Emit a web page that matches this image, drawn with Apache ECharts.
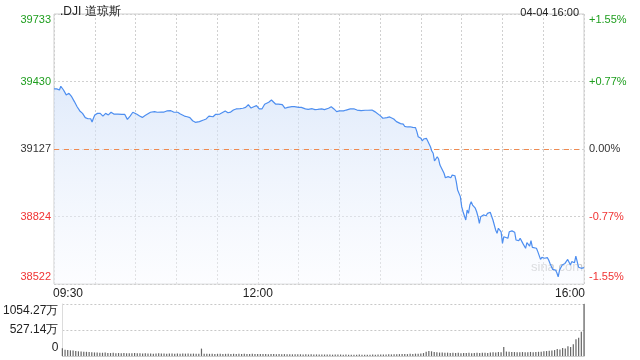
<!DOCTYPE html>
<html><head><meta charset="utf-8">
<script src="https://cdn.jsdelivr.net/npm/echarts@6/dist/echarts.min.js"></script>
<style>html,body{margin:0;padding:0;background:#fff}#c{width:640px;height:360px}</style>
</head><body><div id="c"></div>
<script>
const title = '.DJI 道琼斯';
const stamp = '04-04 16:00';
const prevClose = 39127;
const axisHalfRange = 606.5;
const priceTickLabels = ['38522','38824','39127','39430','39733'];
const pctTickLabels = ['-1.55%','-0.77%','0.00%','+0.77%','+1.55%'];
const volTickLabels = ['0','527.14万','1054.27万'];
const volMax = 1054.27;
const timeTickMinutes = [0,150,390];
const timeTickLabels = ['09:30','12:00','16:00'];

const minutes = [0,2,4,5,7,9,11,13,15,17,19,21,23,25,27,28,29,30,32,34,36,38,40,42,44,47,50,52,54,56,58,61,63,65,67,71,74,76,79,81,83,86,88,91,93,96,98,100,102,104,105,107,110,112,114,117,119,122,123,126,128,130,132,134,137,139,141,143,145,147,149,151,153,155,158,160,161,163,165,168,170,172,175,177,180,182,185,187,190,192,194,197,199,202,204,206,208,209,210,213,215,218,221,223,226,229,231,234,236,237,240,242,245,247,250,252,255,257,258,260,262,264,266,267,268,270,271,272,274,275,277,278,279,280,282,283,284,285,287,288,290,292,293,295,296,297,299,300,301,302,303,304,305,306,307,308,310,311,312,313,314,316,318,319,320,321,323,324,325,326,327,329,330,331,332,334,335,337,339,340,341,342,343,345,346,347,348,350,351,352,353,355,356,357,358,359,361,363,364,365,366,367,369,370,371,372,373,374,376,377,378,380,381,383,384,385,386,388,390];
const prices = [39397,39397,39392,39409,39392,39370,39377,39362,39340,39317,39298,39287,39268,39263,39263,39248,39265,39280,39287,39287,39275,39287,39280,39292,39284,39284,39283,39283,39260,39275,39292,39283,39275,39269,39277,39292,39295,39292,39293,39293,39298,39299,39293,39292,39284,39275,39272,39268,39254,39247,39254,39250,39257,39262,39275,39272,39283,39284,39292,39298,39290,39293,39302,39307,39308,39310,39314,39326,39311,39317,39322,39307,39307,39328,39337,39347,39343,39329,39329,39326,39310,39314,39317,39317,39314,39314,39307,39305,39308,39304,39305,39307,39304,39310,39317,39307,39295,39299,39298,39298,39302,39307,39307,39302,39299,39301,39301,39302,39295,39287,39277,39265,39268,39271,39262,39250,39241,39239,39229,39226,39227,39224,39223,39205,39182,39175,39163,39172,39175,39163,39137,39118,39108,39073,39092,39082,39055,39043,39018,38998,39003,38998,39010,39007,38980,38943,38913,38868,38845,38838,38808,38853,38838,38875,38890,38875,38861,38845,38823,38793,38823,38831,38827,38838,38835,38843,38808,38800,38763,38748,38771,38755,38703,38733,38741,38726,38755,38759,38753,38718,38726,38715,38726,38703,38696,38681,38706,38691,38715,38685,38688,38681,38666,38658,38631,38640,38636,38639,38628,38613,38606,38586,38583,38571,38553,38583,38576,38606,38613,38610,38631,38606,38621,38616,38646,38621,38596,38591,38594];

// volume in 万, one bar per 2 minutes (last bar = 16:00 close)
const volumes = [156,125,120,115,110,100,95,92,88,85,
80,75,72,70,68,66,70,62,60,64,58,60,57,62,55,58,56,60,54,57,
52,55,50,53,48,50,55,49,52,47,50,53,48,51,46,50,48,52,47,49,
46,48,150,45,47,44,46,43,45,47,42,44,46,43,45,41,44,42,45,43,40,44,42,41,43,
40,42,38,41,39,37,40,36,38,35,37,34,36,33,35,32,34,31,33,30,32,29,31,30,28,30,27,29,28,30,
26,28,25,27,24,26,28,25,27,24,26,29,27,30,28,32,30,34,32,36,35,38,40,42,38,45,42,48,46,50,
60,85,100,95,80,75,70,72,65,68,62,66,60,64,58,62,60,65,58,62,66,60,64,68,62,
70,75,72,80,78,180,90,85,82,80,78,76,80,74,78,82,76,80,85,88,
95,100,105,110,120,140,130,160,150,200,180,240,340,370,490,1054.27];

const GREEN = '#1e9e1e', RED = '#f03333', DARK = '#333';
const FONT = 'Liberation Sans, Arial, sans-serif';

const lineData = minutes.map((m, i) => [m, prices[i] - prevClose]);
const volData = volumes.map((v, i) => [Math.min(i * 2, 390), v]);

const step = axisHalfRange / 2;
function tickIndex(v) { return Math.round((v + axisHalfRange) / step); }
function styleKey(idx, n) {
  const col = idx > 2 ? 'g' : (idx < 2 ? 'r' : 'k');
  const pos = idx === n - 1 ? 't' : (idx === 0 ? 'b' : 'm');
  return col + pos;
}
function richSet(fontSize) {
  const r = {};
  const cols = {g: GREEN, r: RED, k: DARK};
  for (const c in cols) {
    r[c + 't'] = {color: cols[c], fontSize, fontFamily: FONT, padding: [12,0,0,0]};
    r[c + 'm'] = {color: cols[c], fontSize, fontFamily: FONT};
    r[c + 'b'] = {color: cols[c], fontSize, fontFamily: FONT, padding: [0,0,14,0]};
  }
  return r;
}

const chart = echarts.init(document.getElementById('c'));
chart.setOption({
  animation: false,
  backgroundColor: '#fff',
  title: [
    {text: title, left: 55, top: 1, textStyle: {fontSize: 12, fontWeight: 'normal', color: '#222', fontFamily: FONT}},
    {text: stamp, right: 56, top: 2, textStyle: {fontSize: 11, fontWeight: 'normal', color: '#222', fontFamily: FONT}}
  ],
  graphic: [{type: 'text', left: 531, top: 261, style: {text: 'sina.com', fill: '#c8c8c8', font: '13px ' + FONT}, z: 1}],
  grid: [
    {left: 54, right: 56, top: 14, height: 270, show: true, borderColor: '#cfcfcf', borderWidth: 1},
    {left: 54, right: 56, top: 304, height: 52}
  ],
  xAxis: [
    {type: 'value', gridIndex: 0, min: 0, max: 390, interval: 30,
     axisLine: {show: false}, axisTick: {show: false},
     splitLine: {show: true, lineStyle: {color: '#d0d0d0', type: [2, 2]}},
     axisLabel: {show: true, margin: 4, fontSize: 12, color: '#222', fontFamily: FONT,
       formatter: v => {
         const k = timeTickMinutes.indexOf(v);
         if (k < 0) return '';
         if (k === 0) return '{l|' + timeTickLabels[k] + '}';
         if (k === timeTickMinutes.length - 1) return '{r|' + timeTickLabels[k] + '}';
         return timeTickLabels[k];
       },
       rich: {l: {padding: [0,0,0,28], fontSize: 12, fontFamily: FONT, color: '#222'},
              r: {padding: [0,28,0,0], fontSize: 12, fontFamily: FONT, color: '#222'}}}},
    {type: 'value', gridIndex: 1, min: 0, max: 390, interval: 30,
     axisLine: {show: true, lineStyle: {color: '#cfcfcf'}}, axisTick: {show: false},
     splitLine: {show: false}, axisLabel: {show: false}}
  ],
  yAxis: [
    {type: 'value', gridIndex: 0, min: -axisHalfRange, max: axisHalfRange, interval: step,
     axisLine: {show: false}, axisTick: {show: false},
     splitLine: {show: true, lineStyle: {color: '#d0d0d0', type: [2, 2]}},
     axisLabel: {margin: 3, formatter: v => { const i = tickIndex(v); return '{' + styleKey(i, 5) + '|' + priceTickLabels[i] + '}'; }, rich: richSet(11)}},
    {type: 'value', gridIndex: 0, position: 'right', min: -axisHalfRange, max: axisHalfRange, interval: step,
     axisLine: {show: false}, axisTick: {show: false}, splitLine: {show: false},
     axisLabel: {margin: 5, formatter: v => { const i = tickIndex(v); return '{' + styleKey(i, 5) + '|' + pctTickLabels[i] + '}'; }, rich: richSet(11)}},
    {type: 'value', gridIndex: 1, min: 0, max: volMax, interval: volMax / 2,
     axisLine: {show: true, lineStyle: {color: '#dcdcdc'}}, axisTick: {show: false},
     splitLine: {show: true, lineStyle: {color: '#c8c8c8', type: [2, 2]}},
     axisLabel: {margin: 4, formatter: v => {
        const i = Math.round(v / (volMax / 2));
        const key = i === 2 ? 't' : (i === 0 ? 'b' : 'm');
        return '{' + key + '|' + volTickLabels[i] + '}';
      },
      rich: {t: {padding: [14,0,0,0], fontSize: 12, color: '#222', fontFamily: FONT},
             m: {fontSize: 12, color: '#222', fontFamily: FONT},
             b: {padding: [0,0,16,0], fontSize: 12, color: '#222', fontFamily: FONT}}}},
    {type: 'value', gridIndex: 1, position: 'right', min: 0, max: volMax, interval: volMax / 2,
     axisLine: {show: true, lineStyle: {color: '#cfcfcf'}}, axisTick: {show: false},
     splitLine: {show: false}, axisLabel: {show: false}}
  ],
  series: [
    {type: 'line', xAxisIndex: 0, yAxisIndex: 0, data: lineData, showSymbol: false, symbol: 'none',
     lineStyle: {color: '#4d8ef0', width: 1.2},
     areaStyle: {origin: 'start', color: new echarts.graphic.LinearGradient(0, 0, 0, 1, [
        {offset: 0, color: 'rgba(205,222,248,0.85)'}, {offset: 1, color: 'rgba(248,250,255,0.6)'}])},
     markLine: {silent: true, symbol: 'none', label: {show: false}, z: 5,
        lineStyle: {color: '#f08a50', type: [5, 5], width: 1, opacity: 1}, data: [{yAxis: 0}]},
     z: 3},
    {type: 'bar', xAxisIndex: 1, yAxisIndex: 2, data: volData, barWidth: 1.2,
     itemStyle: {color: '#666'}}
  ]
});
</script></body></html>
